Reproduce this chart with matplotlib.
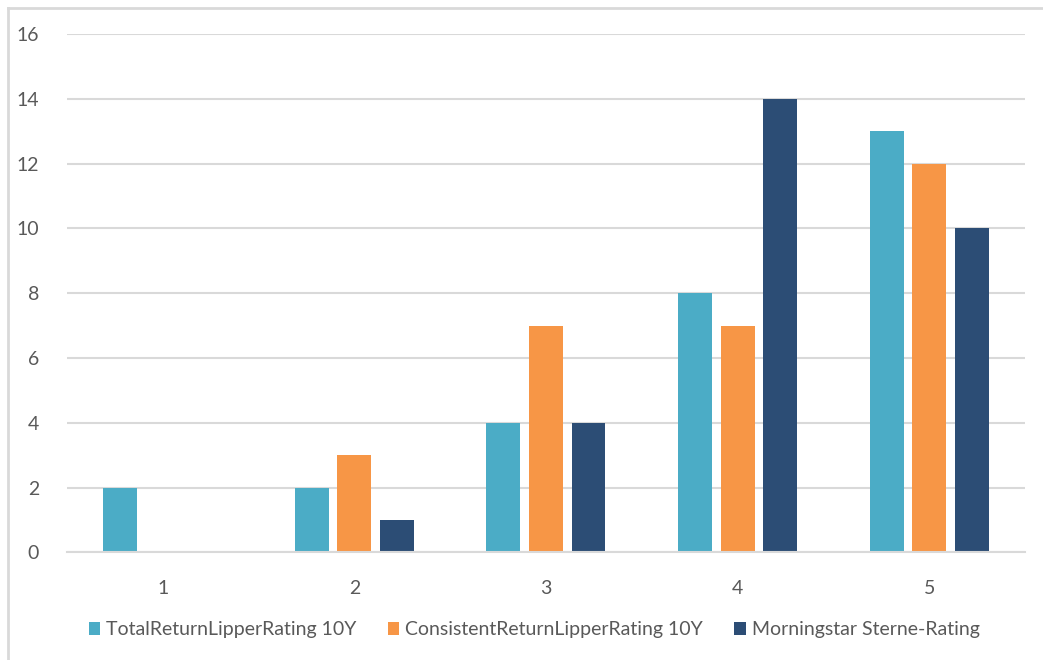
import matplotlib
matplotlib.use("Agg")
import matplotlib.pyplot as plt
from matplotlib.patches import Patch
from matplotlib.lines import Line2D
import numpy as np

categories = ["1", "2", "3", "4", "5"]
total_return = [2, 2, 4, 8, 13]
consistent_return = [0, 3, 7, 7, 12]
morningstar = [0, 1, 4, 14, 10]
series_names = ["TotalReturnLipperRating 10Y",
                "ConsistentReturnLipperRating 10Y",
                "Morningstar Sterne-Rating"]
colors = ["#4BACC6", "#F79646", "#2C4D75"]

plt.rcParams["font.family"] = ["Lato", "DejaVu Sans"]
text_color = "#595959"
grid_color = "#D9D9D9"

fig = plt.figure(figsize=(10.43, 6.6), dpi=100)
ax = fig.add_axes([0.0642, 0.1629, 0.9185, 0.7856])

x = np.arange(1, len(categories) + 1)
width = 0.177
step = 0.222
for i, (vals, c) in enumerate(zip([total_return, consistent_return, morningstar], colors)):
    ax.bar(x + (i - 1) * step, vals, width=width, color=c, zorder=3)

ax.set_xlim(0.5, 5.5)
ax.set_ylim(0, 16)
ax.set_yticks(range(0, 17, 2))
ax.set_xticks(x)
ax.set_xticklabels(categories)
ax.yaxis.grid(True, color=grid_color, linewidth=1.5, zorder=0)
for s in ["top", "right", "left"]:
    ax.spines[s].set_visible(False)
ax.spines["bottom"].set_color(grid_color)
ax.spines["bottom"].set_linewidth(1.5)
ax.spines["bottom"].set_zorder(4)
ax.tick_params(axis="both", length=0, labelsize=14, colors=text_color)
ax.tick_params(axis="y", pad=20)
ax.tick_params(axis="x", pad=20)

handles = [Patch(facecolor=c, edgecolor="none") for c in colors]
fig.legend(handles, series_names, loc="center", bbox_to_anchor=(0.512, 1 - 630 / 660),
           ncol=3, frameon=False, fontsize=14, labelcolor=text_color,
           handlelength=0.6, handleheight=0.6, handletextpad=0.3, columnspacing=1.6)

# outer chart border (left and top edges visible)
fig.add_artist(Line2D([8 / 1043, 8 / 1043], [0, 1 - 8 / 660], color=grid_color,
                      linewidth=2, transform=fig.transFigure))
fig.add_artist(Line2D([8 / 1043, 1], [1 - 8 / 660, 1 - 8 / 660], color=grid_color,
                      linewidth=2, transform=fig.transFigure))

fig.savefig("out.png", dpi=100)
